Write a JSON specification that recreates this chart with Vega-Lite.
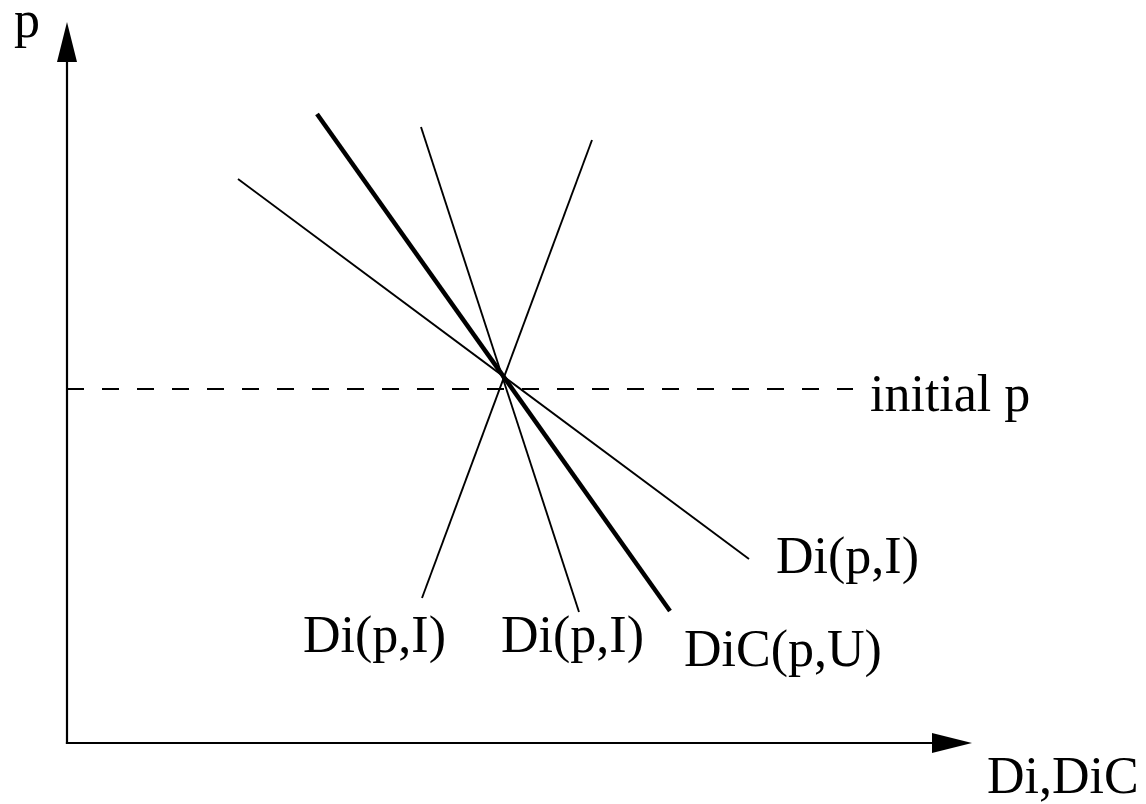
{
  "$schema": "https://vega.github.io/schema/vega-lite/v6.json",
  "width": 1146,
  "height": 804,
  "padding": 0,
  "autosize": {"type": "none"},
  "background": "white",
  "config": {"view": {"stroke": null}},
  "datasets": {
    "lines": [
      {"name": "Di_flat", "role": "demand", "x": 1.71, "y": 5.64},
      {"name": "Di_flat", "role": "demand", "x": 6.82, "y": 1.84},
      {"name": "DiC", "role": "compensated", "x": 2.50, "y": 6.29},
      {"name": "DiC", "role": "compensated", "x": 6.03, "y": 1.32},
      {"name": "Di_steep", "role": "demand", "x": 3.54, "y": 6.16},
      {"name": "Di_steep", "role": "demand", "x": 5.12, "y": 1.31},
      {"name": "Di_up", "role": "demand", "x": 5.25, "y": 6.03},
      {"name": "Di_up", "role": "demand", "x": 3.55, "y": 1.45},
      {"name": "initial_p", "role": "price", "x": 0, "y": 3.54},
      {"name": "initial_p", "role": "price", "x": 7.86, "y": 3.54},
      {"name": "p_axis", "role": "axis", "x": 0, "y": 0},
      {"name": "p_axis", "role": "axis", "x": 0, "y": 6.81},
      {"name": "D_axis", "role": "axis", "x": 0, "y": 0},
      {"name": "D_axis", "role": "axis", "x": 8.65, "y": 0}
    ],
    "arrows": [
      {"axis": "p", "x": 0, "y": 7.01},
      {"axis": "D", "x": 8.85, "y": 0}
    ],
    "labels": [
      {"text": "p", "x": -0.53, "y": 7.06},
      {"text": "initial p", "x": 8.03, "y": 3.32},
      {"text": "Di(p,I)", "x": 7.09, "y": 1.70},
      {"text": "Di(p,I)", "x": 2.36, "y": 0.91},
      {"text": "Di(p,I)", "x": 4.34, "y": 0.91},
      {"text": "DiC(p,U)", "x": 6.17, "y": 0.77},
      {"text": "Di,DiC", "x": 9.20, "y": -0.50}
    ]
  },
  "resolve": {"scale": {"x": "shared", "y": "shared"}},
  "layer": [
    {
      "data": {"name": "lines"},
      "transform": [{"filter": "datum.role === 'axis'"}],
      "mark": {"type": "line", "color": "black", "strokeWidth": 2.2, "strokeCap": "square"},
      "encoding": {
        "x": {"field": "x", "type": "quantitative", "scale": {"domain": [-0.67, 10.79], "nice": false, "zero": false}, "axis": null},
        "y": {"field": "y", "type": "quantitative", "scale": {"domain": [-0.61, 7.43], "nice": false, "zero": false}, "axis": null},
        "detail": {"field": "name"}
      }
    },
    {
      "data": {"name": "lines"},
      "transform": [{"filter": "datum.role === 'price'"}],
      "mark": {"type": "line", "color": "black", "strokeWidth": 2, "strokeDash": [17, 18]},
      "encoding": {
        "x": {"field": "x", "type": "quantitative"},
        "y": {"field": "y", "type": "quantitative"},
        "detail": {"field": "name"}
      }
    },
    {
      "data": {"name": "lines"},
      "transform": [{"filter": "datum.role === 'demand'"}],
      "mark": {"type": "line", "color": "black", "strokeWidth": 1.9},
      "encoding": {
        "x": {"field": "x", "type": "quantitative"},
        "y": {"field": "y", "type": "quantitative"},
        "detail": {"field": "name"}
      }
    },
    {
      "data": {"name": "lines"},
      "transform": [{"filter": "datum.role === 'compensated'"}],
      "mark": {"type": "line", "color": "black", "strokeWidth": 4.5},
      "encoding": {
        "x": {"field": "x", "type": "quantitative"},
        "y": {"field": "y", "type": "quantitative"},
        "detail": {"field": "name"}
      }
    },
    {
      "data": {"name": "arrows"},
      "mark": {"type": "point", "filled": true, "color": "black", "opacity": 1, "size": 1600, "strokeWidth": 0},
      "encoding": {
        "x": {"field": "x", "type": "quantitative"},
        "y": {"field": "y", "type": "quantitative"},
        "shape": {"field": "axis", "type": "nominal", "legend": null,
          "scale": {"domain": ["p", "D"], "range": ["M0,-1L0.5,1L-0.5,1Z", "M1,0L-1,-0.5L-1,0.5Z"]}}
      }
    },
    {
      "data": {"name": "labels"},
      "mark": {"type": "text", "align": "left", "baseline": "alphabetic", "font": "Liberation Serif", "fontSize": 52, "color": "black"},
      "encoding": {
        "x": {"field": "x", "type": "quantitative"},
        "y": {"field": "y", "type": "quantitative"},
        "text": {"field": "text"}
      }
    }
  ]
}
